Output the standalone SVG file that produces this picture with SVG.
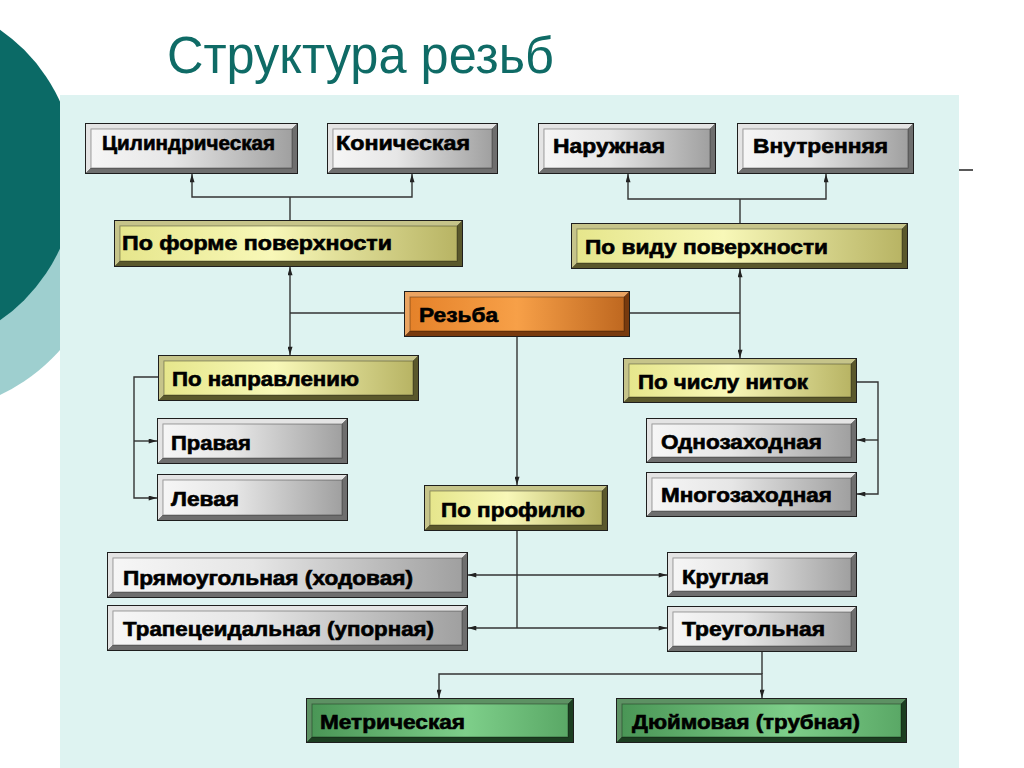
<svg xmlns="http://www.w3.org/2000/svg" width="1024" height="768" viewBox="0 0 1024 768">
<defs>
<linearGradient id="gGray" x1="0" y1="0" x2="1" y2="0"><stop offset="0" stop-color="#f6f6f6"/><stop offset="0.4" stop-color="#e6e6e6"/><stop offset="1" stop-color="#a0a0a0"/></linearGradient>
<linearGradient id="gYel" x1="0" y1="0" x2="1" y2="0"><stop offset="0" stop-color="#e6e68c"/><stop offset="0.45" stop-color="#f8f8b8"/><stop offset="1" stop-color="#b8b464"/></linearGradient>
<linearGradient id="gOr" x1="0" y1="0" x2="1" y2="0"><stop offset="0" stop-color="#e5822a"/><stop offset="0.5" stop-color="#f7a048"/><stop offset="1" stop-color="#bf6820"/></linearGradient>
<linearGradient id="gGr" x1="0" y1="0" x2="1" y2="0"><stop offset="0" stop-color="#4a9656"/><stop offset="0.6" stop-color="#7ecf8a"/><stop offset="1" stop-color="#5aa866"/></linearGradient>
<marker id="ah" viewBox="0 0 10 6" refX="10" refY="3" markerWidth="9" markerHeight="5" orient="auto-start-reverse" markerUnits="userSpaceOnUse"><path d="M0,0L10,3L0,6z" fill="#222"/></marker>
<style>
.bd{fill:#1e1e1e}
.gl{fill:#e4e4e4}.gd{fill:#6e6e6e}.gf{fill:url(#gGray)}
.yl{fill:#c6c48a}.yd{fill:#5a582c}.yf{fill:url(#gYel)}
.ol{fill:#eaa462}.od{fill:#783a0e}.of{fill:url(#gOr)}
.nl{fill:#5d9163}.nd{fill:#1c3e21}.nf{fill:url(#gGr)}
.face{stroke:#000;stroke-opacity:0.35;stroke-width:1}
.t{font-family:"Liberation Sans",Arial,sans-serif;font-weight:bold;font-size:20px;fill:#000;stroke:#000;stroke-width:0.6}
.c{fill:none;stroke:#333;stroke-width:1.4}
.ca{fill:none;stroke:#333;stroke-width:1.4;marker-end:url(#ah)}
.cb{fill:none;stroke:#333;stroke-width:1.4;marker-start:url(#ah);marker-end:url(#ah)}
</style>
</defs>
<rect x="0" y="0" width="1024" height="768" fill="#ffffff"/>
<g id="decor">
<circle cx="-80" cy="226" r="187" fill="#9ecfcf"/>
<circle cx="-101" cy="175" r="177" fill="#0b6a66"/>
<rect x="60" y="95" width="899" height="673" fill="#def3f1"/>
<line x1="959" y1="170" x2="973" y2="170" stroke="#222" stroke-width="1.5"/>
</g>
<text id="title" x="167" y="73" font-family="'Liberation Sans',Arial,sans-serif" font-size="51" fill="#0f6b66" textLength="387" lengthAdjust="spacingAndGlyphs">Структура резьб</text>

<g id="connectors">
<path class="c" d="M290,220V197"/>
<path class="cb" d="M192,174V197H412V174"/>
<path class="c" d="M740,223V199"/>
<path class="cb" d="M628,174V199H826V174"/>
<path class="c" d="M404,313H290"/>
<path class="cb" d="M290,267V355"/>
<path class="c" d="M630,313H740"/>
<path class="cb" d="M740,269V358"/>
<path class="ca" d="M517,337V485"/>
<path class="ca" d="M158,377H134V498H157"/>
<path class="ca" d="M134,441H157"/>
<path class="ca" d="M857,382H878V494H857"/>
<path class="ca" d="M878,440H857"/>
<path class="c" d="M517,531V628"/>
<path class="cb" d="M468,575H667"/>
<path class="cb" d="M468,628H667"/>
<path class="c" d="M762,652V674"/>
<path class="cb" d="M439,698V674H762V698"/>
</g>

<g id="n-cyl" transform="translate(85,123)"><rect class="bd" width="213" height="51"/><path class="gl" d="M1,1h211l-5,5h-201v39l-5,5z"/><path class="gd" d="M212,1v49h-211l5,-5h201v-39z"/><rect class="gf face" x="6" y="6" width="201" height="39"/><text class="t" x="17" y="27" textLength="173" lengthAdjust="spacingAndGlyphs">Цилиндрическая</text></g>
<g id="n-kon" transform="translate(327,123)"><rect class="bd" width="171" height="51"/><path class="gl" d="M1,1h169l-5,5h-159v39l-5,5z"/><path class="gd" d="M170,1v49h-169l5,-5h159v-39z"/><rect class="gf face" x="6" y="6" width="159" height="39"/><text class="t" x="9" y="27" textLength="134" lengthAdjust="spacingAndGlyphs">Коническая</text></g>
<g id="n-forma" transform="translate(114,220)"><rect class="bd" width="349" height="47"/><path class="yl" d="M1,1h347l-5,5h-337v35l-5,5z"/><path class="yd" d="M348,1v45h-347l5,-5h337v-35z"/><rect class="yf face" x="6" y="6" width="337" height="35"/><text class="t" x="8" y="30" textLength="270" lengthAdjust="spacingAndGlyphs">По форме поверхности</text></g>
<g id="n-nar" transform="translate(538,123)"><rect class="bd" width="178" height="51"/><path class="gl" d="M1,1h176l-5,5h-166v39l-5,5z"/><path class="gd" d="M177,1v49h-176l5,-5h166v-39z"/><rect class="gf face" x="6" y="6" width="166" height="39"/><text class="t" x="15" y="30" textLength="112" lengthAdjust="spacingAndGlyphs">Наружная</text></g>
<g id="n-vnut" transform="translate(737,123)"><rect class="bd" width="177" height="51"/><path class="gl" d="M1,1h175l-5,5h-165v39l-5,5z"/><path class="gd" d="M176,1v49h-175l5,-5h165v-39z"/><rect class="gf face" x="6" y="6" width="165" height="39"/><text class="t" x="16" y="30" textLength="135" lengthAdjust="spacingAndGlyphs">Внутренняя</text></g>
<g id="n-vid" transform="translate(571,223)"><rect class="bd" width="337" height="46"/><path class="yl" d="M1,1h335l-5,5h-325v34l-5,5z"/><path class="yd" d="M336,1v44h-335l5,-5h325v-34z"/><rect class="yf face" x="6" y="6" width="325" height="34"/><text class="t" x="14" y="31" textLength="243" lengthAdjust="spacingAndGlyphs">По виду поверхности</text></g>
<g id="n-rezba" transform="translate(404,291)"><rect class="bd" width="226" height="46"/><path class="ol" d="M1,1h224l-5,5h-214v34l-5,5z"/><path class="od" d="M225,1v44h-224l5,-5h214v-34z"/><rect class="of face" x="6" y="6" width="214" height="34"/><text class="t" x="15" y="31" textLength="79" lengthAdjust="spacingAndGlyphs">Резьба</text></g>
<g id="n-napr" transform="translate(158,355)"><rect class="bd" width="261" height="46"/><path class="yl" d="M1,1h259l-5,5h-249v34l-5,5z"/><path class="yd" d="M260,1v44h-259l5,-5h249v-34z"/><rect class="yf face" x="6" y="6" width="249" height="34"/><text class="t" x="14" y="31" textLength="187" lengthAdjust="spacingAndGlyphs">По направлению</text></g>
<g id="n-prav" transform="translate(157,418)"><rect class="bd" width="191" height="46"/><path class="gl" d="M1,1h189l-5,5h-179v34l-5,5z"/><path class="gd" d="M190,1v44h-189l5,-5h179v-34z"/><rect class="gf face" x="6" y="6" width="179" height="34"/><text class="t" x="14" y="32" textLength="80" lengthAdjust="spacingAndGlyphs">Правая</text></g>
<g id="n-lev" transform="translate(157,474)"><rect class="bd" width="191" height="47"/><path class="gl" d="M1,1h189l-5,5h-179v35l-5,5z"/><path class="gd" d="M190,1v45h-189l5,-5h179v-35z"/><rect class="gf face" x="6" y="6" width="179" height="35"/><text class="t" x="14" y="32" textLength="68" lengthAdjust="spacingAndGlyphs">Левая</text></g>
<g id="n-prof" transform="translate(424,485)"><rect class="bd" width="184" height="46"/><path class="yl" d="M1,1h182l-5,5h-172v34l-5,5z"/><path class="yd" d="M183,1v44h-182l5,-5h172v-34z"/><rect class="yf face" x="6" y="6" width="172" height="34"/><text class="t" x="17" y="32" textLength="144" lengthAdjust="spacingAndGlyphs">По профилю</text></g>
<g id="n-chislo" transform="translate(623,358)"><rect class="bd" width="234" height="45"/><path class="yl" d="M1,1h232l-5,5h-222v33l-5,5z"/><path class="yd" d="M233,1v43h-232l5,-5h222v-33z"/><rect class="yf face" x="6" y="6" width="222" height="33"/><text class="t" x="15" y="31" textLength="170" lengthAdjust="spacingAndGlyphs">По числу ниток</text></g>
<g id="n-odno" transform="translate(646,418)"><rect class="bd" width="211" height="45"/><path class="gl" d="M1,1h209l-5,5h-199v33l-5,5z"/><path class="gd" d="M210,1v43h-209l5,-5h199v-33z"/><rect class="gf face" x="6" y="6" width="199" height="33"/><text class="t" x="15" y="31" textLength="161" lengthAdjust="spacingAndGlyphs">Однозаходная</text></g>
<g id="n-mnogo" transform="translate(646,472)"><rect class="bd" width="211" height="45"/><path class="gl" d="M1,1h209l-5,5h-199v33l-5,5z"/><path class="gd" d="M210,1v43h-209l5,-5h199v-33z"/><rect class="gf face" x="6" y="6" width="199" height="33"/><text class="t" x="15" y="30" textLength="171" lengthAdjust="spacingAndGlyphs">Многозаходная</text></g>
<g id="n-pryam" transform="translate(107,552)"><rect class="bd" width="361" height="46"/><path class="gl" d="M1,1h359l-5,5h-349v34l-5,5z"/><path class="gd" d="M360,1v44h-359l5,-5h349v-34z"/><rect class="gf face" x="6" y="6" width="349" height="34"/><text class="t" x="16" y="33" textLength="290" lengthAdjust="spacingAndGlyphs">Прямоугольная (ходовая)</text></g>
<g id="n-trap" transform="translate(107,605)"><rect class="bd" width="361" height="46"/><path class="gl" d="M1,1h359l-5,5h-349v34l-5,5z"/><path class="gd" d="M360,1v44h-359l5,-5h349v-34z"/><rect class="gf face" x="6" y="6" width="349" height="34"/><text class="t" x="16" y="31" textLength="311" lengthAdjust="spacingAndGlyphs">Трапецеидальная (упорная)</text></g>
<g id="n-krug" transform="translate(667,552)"><rect class="bd" width="190" height="45"/><path class="gl" d="M1,1h188l-5,5h-178v33l-5,5z"/><path class="gd" d="M189,1v43h-188l5,-5h178v-33z"/><rect class="gf face" x="6" y="6" width="178" height="33"/><text class="t" x="15" y="32" textLength="87" lengthAdjust="spacingAndGlyphs">Круглая</text></g>
<g id="n-treug" transform="translate(667,606)"><rect class="bd" width="190" height="46"/><path class="gl" d="M1,1h188l-5,5h-178v34l-5,5z"/><path class="gd" d="M189,1v44h-188l5,-5h178v-34z"/><rect class="gf face" x="6" y="6" width="178" height="34"/><text class="t" x="15" y="30" textLength="143" lengthAdjust="spacingAndGlyphs">Треугольная</text></g>
<g id="n-metr" transform="translate(306,698)"><rect class="bd" width="268" height="45"/><path class="nl" d="M1,1h266l-5,5h-256v33l-5,5z"/><path class="nd" d="M267,1v43h-266l5,-5h256v-33z"/><rect class="nf face" x="6" y="6" width="256" height="33"/><text class="t" x="14" y="31" textLength="145" lengthAdjust="spacingAndGlyphs">Метрическая</text></g>
<g id="n-duim" transform="translate(616,698)"><rect class="bd" width="291" height="45"/><path class="nl" d="M1,1h289l-5,5h-279v33l-5,5z"/><path class="nd" d="M290,1v43h-289l5,-5h279v-33z"/><rect class="nf face" x="6" y="6" width="279" height="33"/><text class="t" x="16" y="31" textLength="228" lengthAdjust="spacingAndGlyphs">Дюймовая (трубная)</text></g>
</svg>
